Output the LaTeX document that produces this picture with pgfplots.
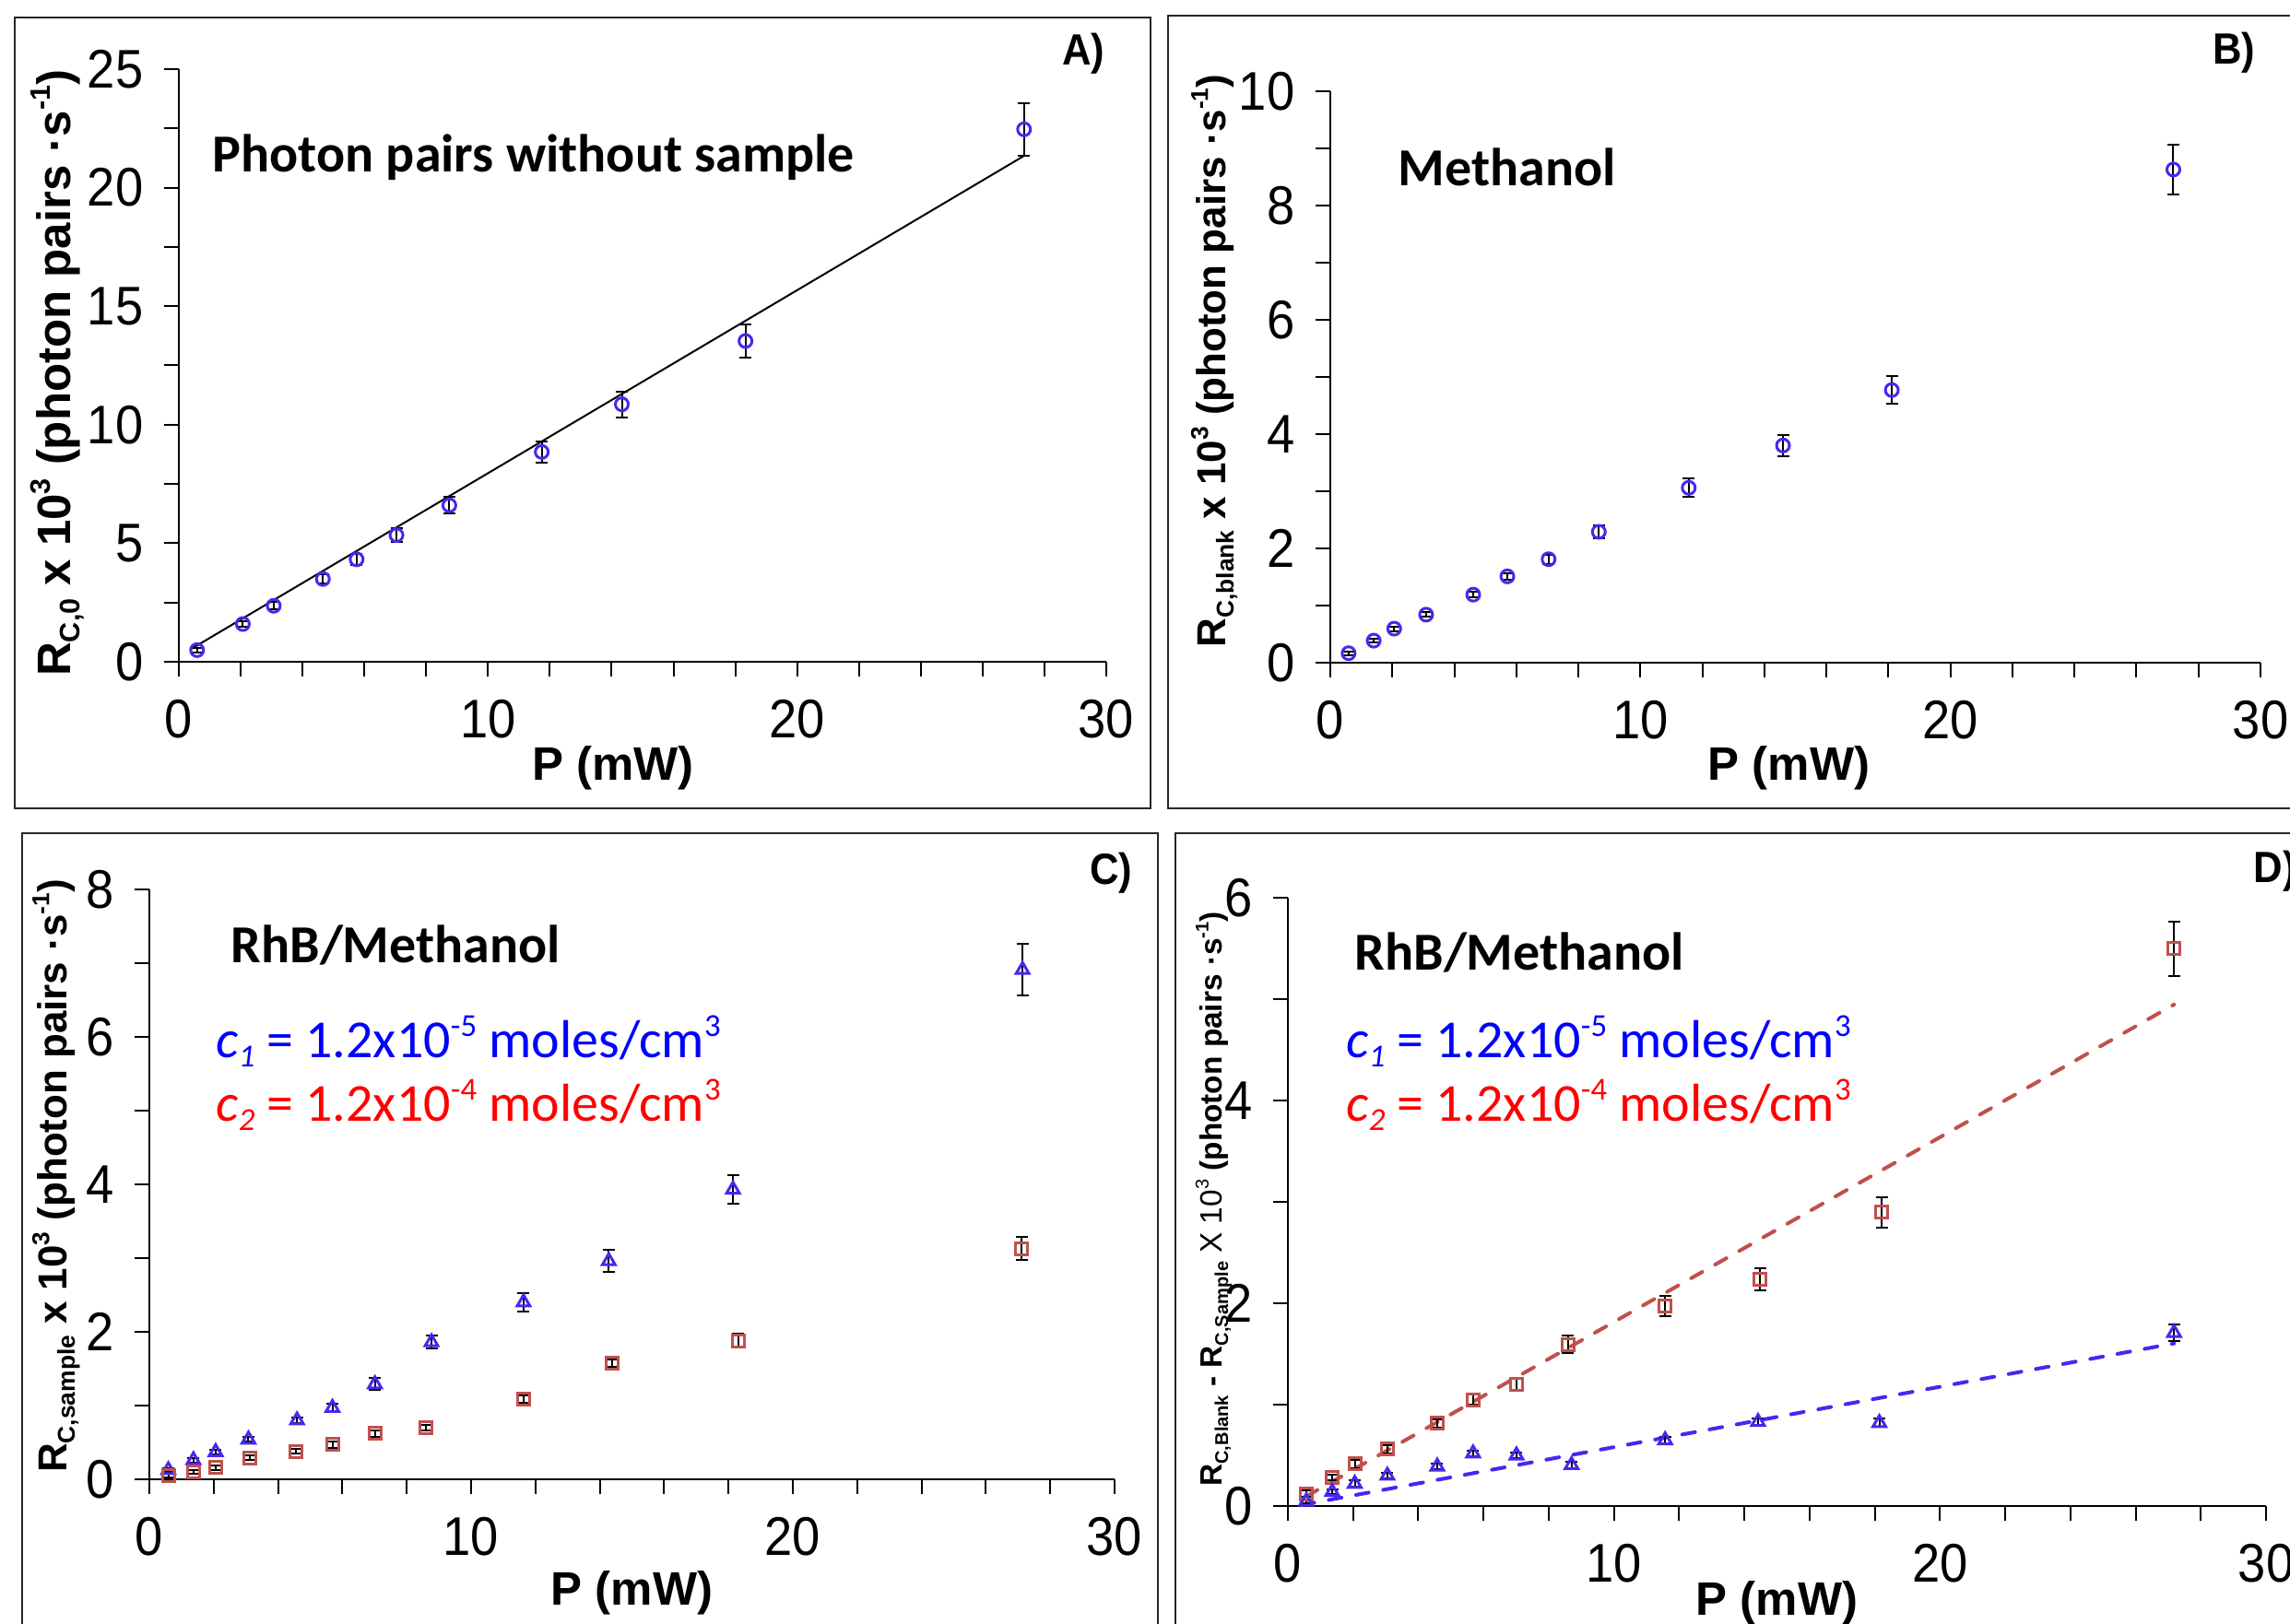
\documentclass[border=0pt]{standalone}
\usepackage{fontspec}
\setmainfont{Liberation Sans}
\newfontfamily\calib{Carlito}
\newfontfamily\narrowfont[FakeStretch=0.92]{Liberation Sans}
\usepackage{graphicx}
\usepackage{pgfplots}
\pgfplotsset{compat=1.18}

\definecolor{mblue}{RGB}{70,40,240}
\definecolor{mred}{RGB}{192,80,77}
\definecolor{tblue}{RGB}{0,0,255}
\definecolor{tred}{RGB}{255,0,0}

% small sub/superscripts as in the original
\newcommand\sbs[1]{\raisebox{-0.35ex}{\scalebox{0.6}{#1}}}
\newcommand\sps[1]{\raisebox{0.85ex}{\scalebox{0.6}{#1}}}

\pgfplotsset{
  panel/.style={
    scale only axis, clip=false,
    axis x line=bottom, axis y line=left,
    axis line style={-, line width=0.2mm},
    xmin=0, xmax=30, ymin=0,
    xtick={0,10,20,30}, minor x tick num=4, minor y tick num=1,
    tick align=outside, major tick length=1.6mm, minor tick length=1.6mm,
    every tick/.style={black, line width=0.2mm},
    /pgf/number format/assume math mode=true,
    ticklabel style={font=\narrowfont\fontsize{16.8}{16.8}\selectfont},
    xticklabel style={anchor=north, inner sep=0pt, yshift=-2.5mm},
    yticklabel style={anchor=east, inner sep=0pt, xshift=-2.2mm},
    xlabel={\bfseries P (mW)},
    xlabel style={font=\fontsize{14.5}{14.5}\selectfont, anchor=base},
  },
  ebar/.style={only marks,
    error bars/.cd, y dir=both, y explicit,
    error bar style={black, line width=0.2mm},
    error mark options={black, line width=0.2mm, mark size=0.65mm, rotate=90}},
  circ/.style={mblue, mark=o, mark size=0.7mm, mark options={line width=0.3mm, fill=none}},
  tri/.style={mblue, mark=triangle, mark size=0.8mm, mark options={line width=0.3mm, fill=none}},
  sqr/.style={mred, mark=square, mark size=0.65mm, mark options={line width=0.3mm, fill=none}},
}

\begin{document}
\begin{tikzpicture}
\useasboundingbox (0,0) rectangle (248.4mm,176.2mm);

% panel frames
\draw[black!85, line width=0.25mm] (1.6mm,88.5mm) rectangle (124.8mm,174.3mm);
\draw[black!85, line width=0.25mm] (126.7mm,88.5mm) rectangle (249.5mm,174.5mm);
\draw[black!85, line width=0.25mm] (2.4mm,-1mm) rectangle (125.6mm,85.8mm);
\draw[black!85, line width=0.25mm] (127.5mm,-1mm) rectangle (249.5mm,85.8mm);

% ---------- A ----------
\begin{axis}[panel, at={(19.4mm,104.4mm)}, anchor=south west,
  width=100.6mm, height=64.3mm, ymax=25, ytick={0,5,...,25},
  xlabel style={at={(axis description cs:0.468,0)}, yshift=-12.9mm},
  ylabel={\bfseries R\sbs{C,0} x 10\sps{3} (photon pairs ·s\sps{-1})},
  ylabel style={font=\fontsize{14.5}{14.5}\selectfont, at={(axis description cs:-0.1163,0.487)}, anchor=base}]
\addplot[black, line width=0.2mm, no marks] coordinates {(0.36,0.51) (27.34,21.34)};
\addplot[circ, ebar] coordinates {
  (0.59,0.49) +- (0,0.10)
  (2.07,1.59) +- (0,0.12)
  (3.07,2.36) +- (0,0.15)
  (4.66,3.49) +- (0,0.20)
  (5.75,4.32) +- (0,0.24)
  (7.04,5.34) +- (0,0.30)
  (8.75,6.60) +- (0,0.34)
  (11.74,8.85) +- (0,0.44)
  (14.33,10.86) +- (0,0.54)
  (18.33,13.53) +- (0,0.70)
  (27.34,22.46) +- (0,1.10)
};
\end{axis}

% ---------- B ----------
\begin{axis}[panel, at={(144.3mm,104.3mm)}, anchor=south west,
  width=100.9mm, height=62.0mm, ymax=10, ytick={0,2,...,10},
  xlabel style={at={(axis description cs:0.493,0)}, yshift=-12.8mm},
  ylabel={\bfseries R\sbs{C,blank} x 10\sps{3} (photon pairs ·s\sps{-1})},
  ylabel style={font=\fontsize{12.5}{12.5}\selectfont, at={(axis description cs:-0.112,0.528)}, anchor=base}]
\addplot[circ, ebar] coordinates {
  (0.59,0.165) +- (0,0.03)
  (1.40,0.385) +- (0,0.03)
  (2.06,0.595) +- (0,0.04)
  (3.09,0.84) +- (0,0.04)
  (4.61,1.19) +- (0,0.05)
  (5.71,1.51) +- (0,0.06)
  (7.04,1.81) +- (0,0.08)
  (8.66,2.29) +- (0,0.11)
  (11.56,3.06) +- (0,0.16)
  (14.60,3.80) +- (0,0.19)
  (18.11,4.77) +- (0,0.24)
  (27.19,8.63) +- (0,0.435)
};
\end{axis}

% ---------- C ----------
\begin{axis}[panel, at={(16.2mm,15.7mm)}, anchor=south west,
  width=104.7mm, height=64.0mm, ymax=8, ytick={0,2,...,8},
  xlabel style={at={(axis description cs:0.5,0)}, yshift=-13.7mm},
  ylabel={\bfseries R\sbs{C,sample} x 10\sps{3} (photon pairs ·s\sps{-1})},
  ylabel style={font=\fontsize{12.5}{12.5}\selectfont, at={(axis description cs:-0.085,0.514)}, anchor=base}]
\addplot[tri, ebar] coordinates {
  (0.59,0.125) +- (0,0.03)
  (1.37,0.26) +- (0,0.03)
  (2.06,0.37) +- (0,0.03)
  (3.08,0.54) +- (0,0.03)
  (4.59,0.80) +- (0,0.04)
  (5.69,0.97) +- (0,0.05)
  (7.01,1.29) +- (0,0.08)
  (8.77,1.86) +- (0,0.09)
  (11.63,2.40) +- (0,0.12)
  (14.28,2.96) +- (0,0.15)
  (18.14,3.93) +- (0,0.19)
  (27.14,6.91) +- (0,0.35)
};
\addplot[sqr, ebar] coordinates {
  (0.59,0.05) +- (0,0.02)
  (1.37,0.10) +- (0,0.02)
  (2.06,0.16) +- (0,0.03)
  (3.11,0.29) +- (0,0.03)
  (4.57,0.38) +- (0,0.03)
  (5.71,0.47) +- (0,0.04)
  (7.01,0.62) +- (0,0.04)
  (8.61,0.70) +- (0,0.04)
  (11.63,1.09) +- (0,0.05)
  (14.39,1.57) +- (0,0.05)
  (18.30,1.88) +- (0,0.09)
  (27.12,3.13) +- (0,0.16)
};
\end{axis}

% ---------- D ----------
\begin{axis}[panel, at={(139.7mm,12.8mm)}, anchor=south west,
  width=106.1mm, height=65.95mm, ymax=6, ytick={0,2,...,6},
  xlabel style={at={(axis description cs:0.5,0)}, yshift=-11.9mm},
  ylabel={{\bfseries R\sbs{C,Blank} - R\sbs{C,Sample}} X 10\sps{3} {\bfseries (photon pairs ·s\sps{-1})}},
  ylabel style={font=\fontsize{9.5}{9.5}\selectfont, at={(axis description cs:-0.067,0.505)}, anchor=base}]
\addplot[mred, line width=0.4mm, no marks, line cap=round, dash pattern=on 1.4mm off 1.6mm] coordinates {(0.56,0.095) (27.18,4.95)};
\addplot[mblue, line width=0.4mm, no marks, line cap=round, dash pattern=on 1.4mm off 1.6mm] coordinates {(0.42,0.01) (27.18,1.605)};
\addplot[sqr, ebar] coordinates {
  (0.56,0.12) +- (0,0.03)
  (1.36,0.28) +- (0,0.03)
  (2.05,0.415) +- (0,0.04)
  (3.05,0.56) +- (0,0.04)
  (4.58,0.815) +- (0,0.04)
  (5.68,1.05) +- (0,0.05)
  (7.01,1.20) +- (0,0.055)
  (8.59,1.595) +- (0,0.085)
  (11.57,1.975) +- (0,0.10)
  (14.49,2.24) +- (0,0.11)
  (18.21,2.90) +- (0,0.15)
  (27.18,5.50) +- (0,0.27)
};
\addplot[tri, ebar] coordinates {
  (0.56,0.045) +- (0,0.02)
  (1.36,0.14) +- (0,0.02)
  (2.05,0.22) +- (0,0.03)
  (3.05,0.30) +- (0,0.03)
  (4.58,0.39) +- (0,0.03)
  (5.68,0.52) +- (0,0.03)
  (7.01,0.50) +- (0,0.03)
  (8.70,0.405) +- (0,0.03)
  (11.57,0.65) +- (0,0.03)
  (14.42,0.83) +- (0,0.03)
  (18.14,0.82) +- (0,0.04)
  (27.18,1.71) +- (0,0.085)
};
\end{axis}

% panel letters
\begin{scope}[every node/.style={font=\narrowfont\bfseries\fontsize{13.5}{13.5}\selectfont, inner sep=0pt}]
\node[anchor=base east] at (119.9mm,169.1mm) {A)};
\node[anchor=base east] at (244.7mm,169.2mm) {B)};
\node[anchor=base east] at (122.9mm,80.2mm) {C)};
\node[anchor=base west] at (244.4mm,80.4mm) {D)};
\end{scope}

% in-panel titles
\begin{scope}[every node/.style={anchor=base west, inner sep=0pt, font=\calib\fontsize{16.5}{16.5}\selectfont}]
\node[font=\calib\bfseries\fontsize{16.5}{16.5}\selectfont] at (23.0mm,157.5mm) {Photon pairs without sample};
\node[font=\calib\bfseries\fontsize{16.5}{16.5}\selectfont] at (151.6mm,156.0mm) {Methanol};
\node[font=\calib\bfseries\fontsize{16.5}{16.5}\selectfont] at (25.0mm,71.7mm) {RhB/Methanol};
\node[text=tblue] at (23.4mm,61.4mm) {\textit{c}\sbs{\textit{1}} = 1.2x10\sps{-5} moles/cm\sps{3}};
\node[text=tred] at (23.4mm,54.5mm) {\textit{c}\sbs{\textit{2}} = 1.2x10\sps{-4} moles/cm\sps{3}};
\node[font=\calib\bfseries\fontsize{16.5}{16.5}\selectfont] at (146.9mm,70.9mm) {RhB/Methanol};
\node[text=tblue] at (146.0mm,61.4mm) {\textit{c}\sbs{\textit{1}} = 1.2x10\sps{-5} moles/cm\sps{3}};
\node[text=tred] at (146.0mm,54.5mm) {\textit{c}\sbs{\textit{2}} = 1.2x10\sps{-4} moles/cm\sps{3}};
\end{scope}
\end{tikzpicture}
\end{document}
